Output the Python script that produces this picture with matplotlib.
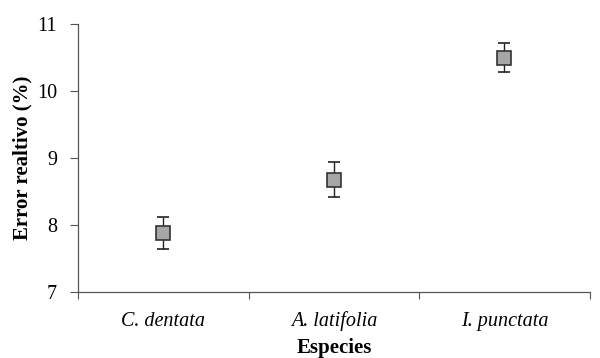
import matplotlib.pyplot as plt
import numpy as np

species = ["C. dentata", "A. latifolia", "I. punctata"]
error_rel = [7.88, 8.68, 10.50]
err = [0.24, 0.26, 0.22]

plt.rcParams['font.family'] = ['Liberation Serif', 'DejaVu Serif']

fig = plt.figure(figsize=(6, 3.58), dpi=100)
ax = fig.add_axes([0.13, 0.184, 0.853, 0.749])

x = np.arange(len(species)) + 0.5
ax.errorbar(x, error_rel, yerr=err, fmt='s', color='#333333', ecolor='#222222',
            elinewidth=1.0, capsize=4.5, capthick=1.0,
            markersize=10, markerfacecolor='#a6a6a6', markeredgecolor='#333333',
            markeredgewidth=1.2)

ax.set_xlim(0, 3)
ax.set_ylim(7, 11)
ax.set_yticks([7, 8, 9, 10, 11])
ax.set_xticks([0, 1, 2, 3])
ax.set_xticklabels([])
ax.set_xticks(x, minor=True)
ax.set_xticklabels(species, minor=True, fontstyle='italic', fontsize=14.5)
ax.tick_params(axis='x', which='minor', length=0, pad=14)
ax.tick_params(axis='x', which='major', length=5, width=0.8, color='#555555')
ax.tick_params(axis='y', length=6, width=0.8, color='#555555', labelsize=14.5, pad=9)

for s in ['top', 'right']:
    ax.spines[s].set_visible(False)
for s in ['left', 'bottom']:
    ax.spines[s].set_color('#555555')
    ax.spines[s].set_linewidth(0.9)

ax.set_ylabel('Error realtivo (%)', fontsize=15, fontweight='bold', labelpad=3)
ax.set_xlabel('Especies', fontsize=15, fontweight='bold', labelpad=5)

fig.savefig('out.png', dpi=100)
